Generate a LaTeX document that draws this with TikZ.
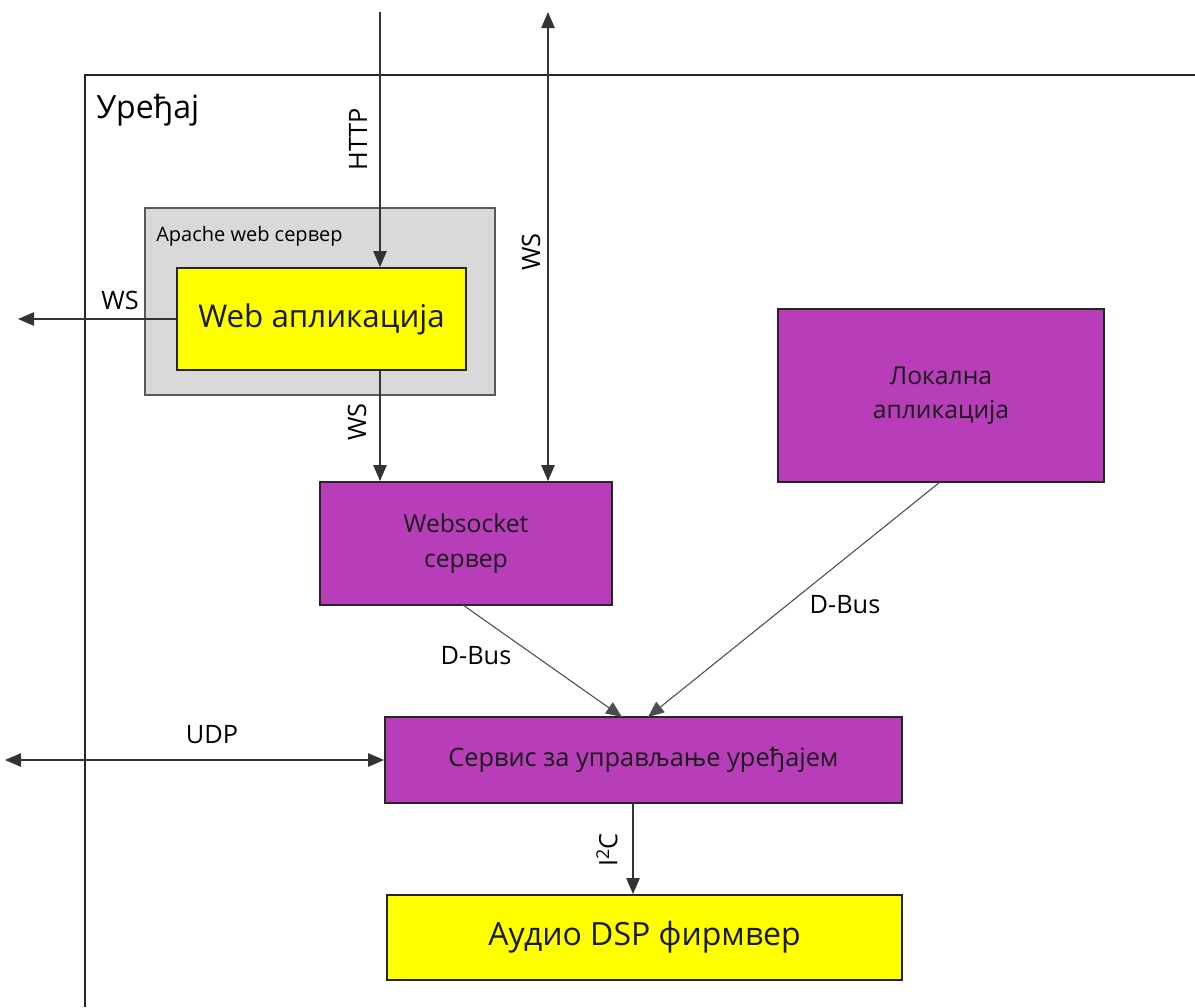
\documentclass[tikz,border=0pt]{standalone}
\usepackage{fontspec}
\usepackage{graphicx}
\setmainfont{Open Sans}
\usetikzlibrary{arrows.meta,fit}
\definecolor{purp}{RGB}{184,61,184}
\definecolor{ylw}{RGB}{255,255,0}
\definecolor{lgray}{RGB}{217,217,217}
\definecolor{bgray}{RGB}{89,89,89}
\tikzset{
  blk/.style={draw=black!85, line width=1.4pt, inner sep=0pt},
  pbox/.style={blk, fill=purp},
  ybox/.style={blk, fill=ylw},
  conn/.style={draw=black!80, line width=1.1pt},
  thin/.style={draw=black!70, line width=0.8pt},
  tipa/.style={-{Triangle[width=10pt,length=12pt]}},
  tipb/.style={{Triangle[width=10pt,length=12pt]}-{Triangle[width=10pt,length=12pt]}},
  lbl/.style={inner sep=0pt, font=\fontsize{19}{22}\selectfont},
  boxtxt/.style={inner sep=0pt, align=center, text=black!90, font=\fontsize{18.5}{26}\selectfont},
}
\begin{document}
\begin{tikzpicture}[x=0.75pt,y=-0.75pt]
\useasboundingbox (0,0) rectangle (1195,1007);
% device frame
\draw[line width=1.1pt, black!85] (85,1007) -- (85,75) -- (1195,75);
\node[anchor=west, inner sep=0pt, font=\fontsize{24}{28}\selectfont] (dev) at (96,110) {Уређај};
% apache
\node[draw=bgray, line width=1.3pt, fill=lgray, inner sep=0pt, fit={(145,208) (495,395)}] (apache) {};
\node[anchor=west, inner sep=0pt, font=\fontsize{15}{18}\selectfont] (apachetxt) at (156,236) {Apache web сервер};
\node[ybox, fit={(177,268) (466,370)}] (web) {};
\node[boxtxt, font=\fontsize{23.5}{28}\selectfont] (webtxt) at (web.center) {Web апликација};
% websocket
\node[pbox, fit={(320,482) (612,605)}] (wss) {};
\node[boxtxt] (wsstxt) at (wss.center) {Websocket\\сервер};
% local
\node[pbox, fit={(778,309) (1104,482)}] (loc) {};
\node[boxtxt] (loctxt) at (loc.center) {Локална\\апликација};
% service
\node[pbox, fit={(385,717) (902,803)}] (svc) {};
\node[boxtxt, font=\fontsize{19}{22}\selectfont] (svctxt) at (svc.center) {Сервис за управљање уређајем};
% dsp
\node[ybox, fit={(387,895) (902,980)}] (dsp) {};
\node[boxtxt, font=\fontsize{24}{28}\selectfont] (dsptxt) at (dsp.center) {Аудио DSP фирмвер};
% coordinates
\coordinate (httpin) at (380,12);
\coordinate (wstop) at (548,12);
\coordinate (wsleft) at (18,319);
\coordinate (udpleft) at (5,760);
\coordinate (dbA) at (622,717);
\coordinate (dbB) at (648,717);
\coordinate (dbAs) at (463,605);
\coordinate (dbBs) at (940,482);
\coordinate (i2cs) at (633,803);
% connectors
\draw[conn, tipa] (httpin) -- (httpin |- web.north);
\draw[conn, tipb] (wstop) -- (wstop |- wss.north);
\draw[conn, tipa] (web.west) -- (wsleft);
\draw[conn, tipa] (httpin |- web.south) -- (httpin |- wss.north);
\draw[thin, tipa] (dbAs) -- (dbA);
\draw[thin, tipa] (dbBs) -- (dbB);
\draw[conn, tipb] (udpleft) -- (svc.west);
\draw[conn, tipa] (i2cs) -- (i2cs |- dsp.north);
% labels
\node[lbl, rotate=90] (lhttp) at (358,139) {HTTP};
\node[lbl, rotate=90] (lws1) at (531,252) {WS};
\node[lbl] (lws2) at (120,300) {WS};
\node[lbl, rotate=90] (lws3) at (357,422) {WS};
\node[lbl] (ldb1) at (476,656) {D-Bus};
\node[lbl] (ldb2) at (845,605) {D-Bus};
\node[lbl] (ludp) at (212,735) {UDP};
\node[lbl, rotate=90] (li2c) at (607,850) {I\textsuperscript{2}C};
\end{tikzpicture}
\end{document}
